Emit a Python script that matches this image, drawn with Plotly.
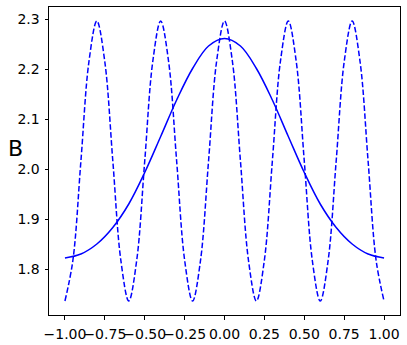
import plotly.graph_objects as go

# wide (solid) curve, sampled every 0.1
x_solid = [-1.0, -0.9, -0.8, -0.7, -0.6, -0.5, -0.4, -0.3, -0.2, -0.1, 0.0,
           0.1, 0.2, 0.3, 0.4, 0.5, 0.6, 0.7, 0.8, 0.9, 1.0]
y_solid = [1.822, 1.830, 1.850, 1.883, 1.930, 1.993, 2.065, 2.138, 2.201, 2.246, 2.261,
           2.246, 2.201, 2.138, 2.065, 1.993, 1.930, 1.883, 1.850, 1.830, 1.822]

# oscillating (dashed) curve, sampled every 0.05
x_dash = [-1.0, -0.95, -0.9, -0.85, -0.8, -0.75, -0.7, -0.65, -0.6, -0.55,
          -0.5, -0.45, -0.4, -0.35, -0.3, -0.25, -0.2, -0.15, -0.1, -0.05,
          0.0, 0.05, 0.1, 0.15, 0.2, 0.25, 0.3, 0.35, 0.4, 0.45,
          0.5, 0.55, 0.6, 0.65, 0.7, 0.75, 0.8, 0.85, 0.9, 0.95, 1.0]
y_dash = [1.736, 1.818, 2.016, 2.214, 2.296, 2.214, 2.016, 1.818, 1.736, 1.818,
          2.016, 2.214, 2.296, 2.214, 2.016, 1.818, 1.736, 1.818, 2.016, 2.214,
          2.296, 2.214, 2.016, 1.818, 1.736, 1.818, 2.016, 2.214, 2.296, 2.214,
          2.016, 1.818, 1.736, 1.818, 2.016, 2.214, 2.296, 2.214, 2.016, 1.818, 1.736]

x_ticks = [-1.0, -0.75, -0.5, -0.25, 0.0, 0.25, 0.5, 0.75, 1.0]
y_ticks = [1.8, 1.9, 2.0, 2.1, 2.2, 2.3]

fig = go.Figure()
fig.add_trace(go.Scatter(x=x_dash, y=y_dash, mode="lines", showlegend=False,
                         line=dict(color="#0000ff", width=1.5, dash="5.5px,2.4px",
                                   shape="spline", smoothing=1)))
fig.add_trace(go.Scatter(x=x_solid, y=y_solid, mode="lines", showlegend=False,
                         line=dict(color="#0000ff", width=1.5, shape="spline", smoothing=1)))

axis_style = dict(showgrid=False, zeroline=False, showline=True, linecolor="black",
                  linewidth=1, mirror=True, ticks="outside", ticklen=3.5, tickwidth=1,
                  tickcolor="black", automargin=False, tickangle=0,
                  tickfont=dict(family="DejaVu Sans", size=14, color="black"))

fig.update_xaxes(range=[-1.1, 1.1], tickvals=x_ticks, tickformat=".2f",
                 ticklabelstandoff=3, **axis_style)
fig.update_yaxes(range=[1.708, 2.324], tickvals=y_ticks, tickformat=".1f",
                 ticklabelstandoff=2, **axis_style)

fig.add_annotation(text="B", xref="paper", yref="paper", x=-0.096, y=0.54,
                   xanchor="center", yanchor="middle", showarrow=False,
                   font=dict(family="DejaVu Sans", size=22, color="black"))

fig.update_layout(width=407, height=345, margin=dict(l=49, r=7, t=7, b=30),
                  plot_bgcolor="white", paper_bgcolor="white",
                  font=dict(family="DejaVu Sans"))

fig.write_html("out.html", config={"displayModeBar": False},
               post_script="document.body.style.margin='0';")
